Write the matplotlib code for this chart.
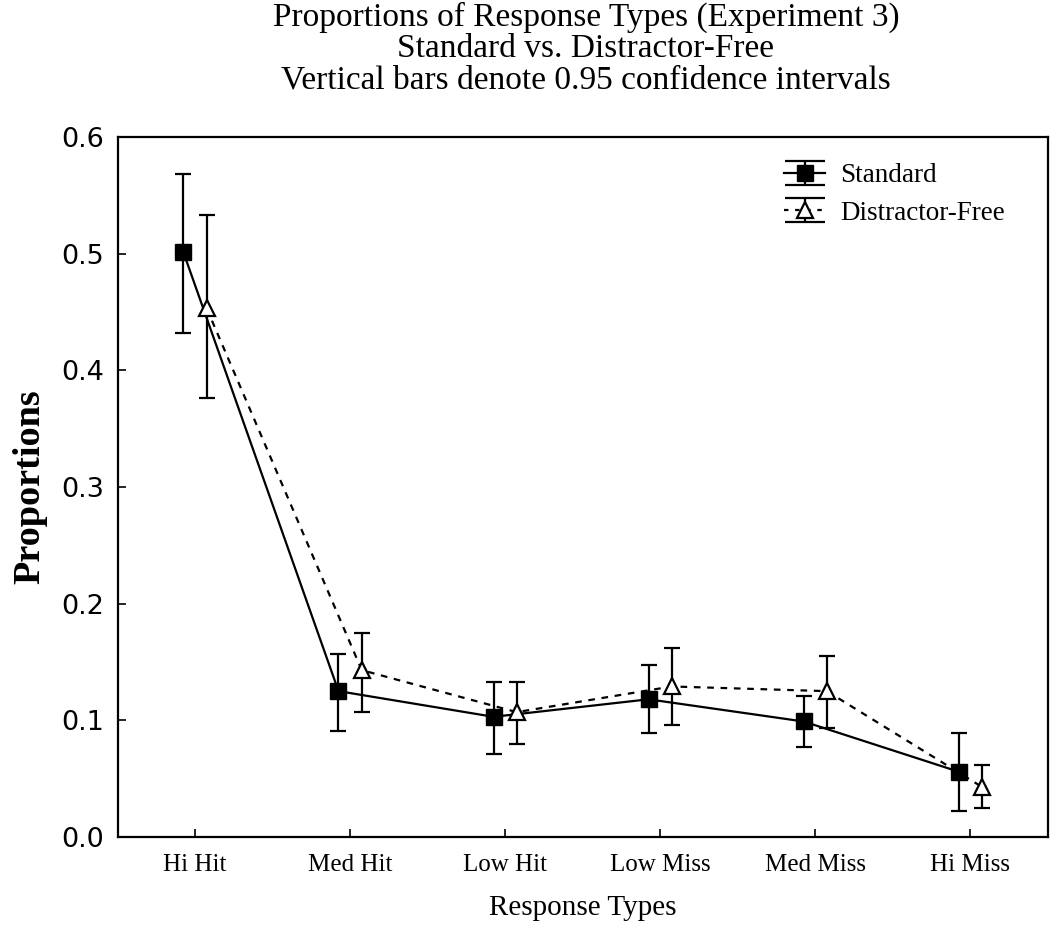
#!/usr/bin/env python3

import numpy as np
import matplotlib.pyplot as plt
from matplotlib.path import Path
from matplotlib.lines import Line2D
from matplotlib.legend_handler import HandlerTuple

# Response type categories
categories = ['Hi Hit', 'Med Hit', 'Low Hit', 'Low Miss', 'Med Miss', 'Hi Miss']

# Standard condition: means and 0.95 CI bounds
standard_mean = [0.501, 0.125, 0.103, 0.118, 0.099, 0.056]
standard_low = [0.432, 0.091, 0.071, 0.089, 0.077, 0.022]
standard_high = [0.568, 0.157, 0.133, 0.147, 0.121, 0.089]

# Distractor-free condition: means and 0.95 CI bounds
free_mean = [0.453, 0.143, 0.107, 0.129, 0.125, 0.043]
free_low = [0.376, 0.107, 0.080, 0.096, 0.093, 0.025]
free_high = [0.533, 0.175, 0.133, 0.162, 0.155, 0.062]

serif = 'Liberation Serif'
dashes = (0, (3, 3))

fig = plt.figure(figsize=(10.5, 9.38), dpi=100)
ax = fig.add_axes([0.112, 0.1077, 0.8858, 0.7463])

x = np.arange(len(categories))
offset = 0.075

std_err = [np.array(standard_mean) - np.array(standard_low),
           np.array(standard_high) - np.array(standard_mean)]
free_err = [np.array(free_mean) - np.array(free_low),
            np.array(free_high) - np.array(free_mean)]

ax.errorbar(x - offset, standard_mean, yerr=std_err, color='black', linestyle='-', linewidth=1.6,
            marker='s', markersize=12, markerfacecolor='black', markeredgecolor='black',
            ecolor='black', elinewidth=1.6, capsize=6, capthick=1.6, zorder=3)
ax.errorbar(x + offset, free_mean, yerr=free_err, color='black', linestyle=dashes, linewidth=1.6,
            marker='^', markersize=12, markerfacecolor='white', markeredgecolor='black', markeredgewidth=1.6,
            ecolor='black', elinewidth=1.6, capsize=6, capthick=1.6, zorder=4)

ax.set_xlim(-0.5, 5.5)
ax.set_ylim(0.0, 0.6)
ax.set_xticks(x)
ax.set_xticklabels(categories, fontfamily=serif, fontsize=18)
ax.set_yticks(np.arange(0, 0.61, 0.1))
ax.set_yticklabels(['%.1f' % v for v in np.arange(0, 0.61, 0.1)], fontsize=19.5)
ax.tick_params(direction='in', length=6, width=1.2, top=False, right=False)
ax.tick_params(axis='x', pad=12)
ax.tick_params(axis='y', pad=10)
for spine in ax.spines.values():
    spine.set_linewidth(1.6)

ax.set_xlabel('Response Types', fontfamily=serif, fontsize=21, labelpad=14)
ax.set_ylabel('Proportions', fontfamily=serif, fontsize=27.5, fontweight='bold', labelpad=10)

# three-line title centred over the axes
title_lines = ['Proportions of Response Types (Experiment 3)',
               'Standard vs. Distractor-Free',
               'Vertical bars denote 0.95 confidence intervals']
for i, line in enumerate(title_lines):
    fig.text(0.558, 0.982 - i * 0.034, line, ha='center', va='center',
             fontfamily=serif, fontsize=24)

# legend handles drawn like error bars: cap, marker, cap
cap_marker = Path([(-1, 0.62), (1, 0.62), (0, 0.62), (0, -0.62), (-1, -0.62), (1, -0.62)],
                  [Path.MOVETO, Path.LINETO, Path.MOVETO, Path.LINETO, Path.MOVETO, Path.LINETO])
std_handle = (Line2D([], [], color='black', linestyle='-', linewidth=1.6),
              Line2D([], [], color='black', linestyle='none', marker=cap_marker, markersize=29,
                     markeredgewidth=1.6, markerfacecolor='none'),
              Line2D([], [], color='black', linestyle='none', marker='s', markersize=12))
free_handle = (Line2D([], [], color='black', linestyle=(0, (2, 3)), linewidth=1.6),
               Line2D([], [], color='black', linestyle='none', marker=cap_marker, markersize=29,
                      markeredgewidth=1.6, markerfacecolor='none'),
               Line2D([], [], color='black', linestyle='none', marker='^', markersize=12,
                      markerfacecolor='white', markeredgewidth=1.6))
ax.legend([std_handle, free_handle], ['Standard', 'Distractor-Free'],
          handler_map={tuple: HandlerTuple(ndivide=1)},
          loc='upper right', bbox_to_anchor=(0.98, 0.997), frameon=False,
          prop={'family': serif, 'size': 19.5}, handlelength=1.5, handletextpad=0.55,
          labelspacing=0.45)

plt.savefig('out.png', dpi=100)
